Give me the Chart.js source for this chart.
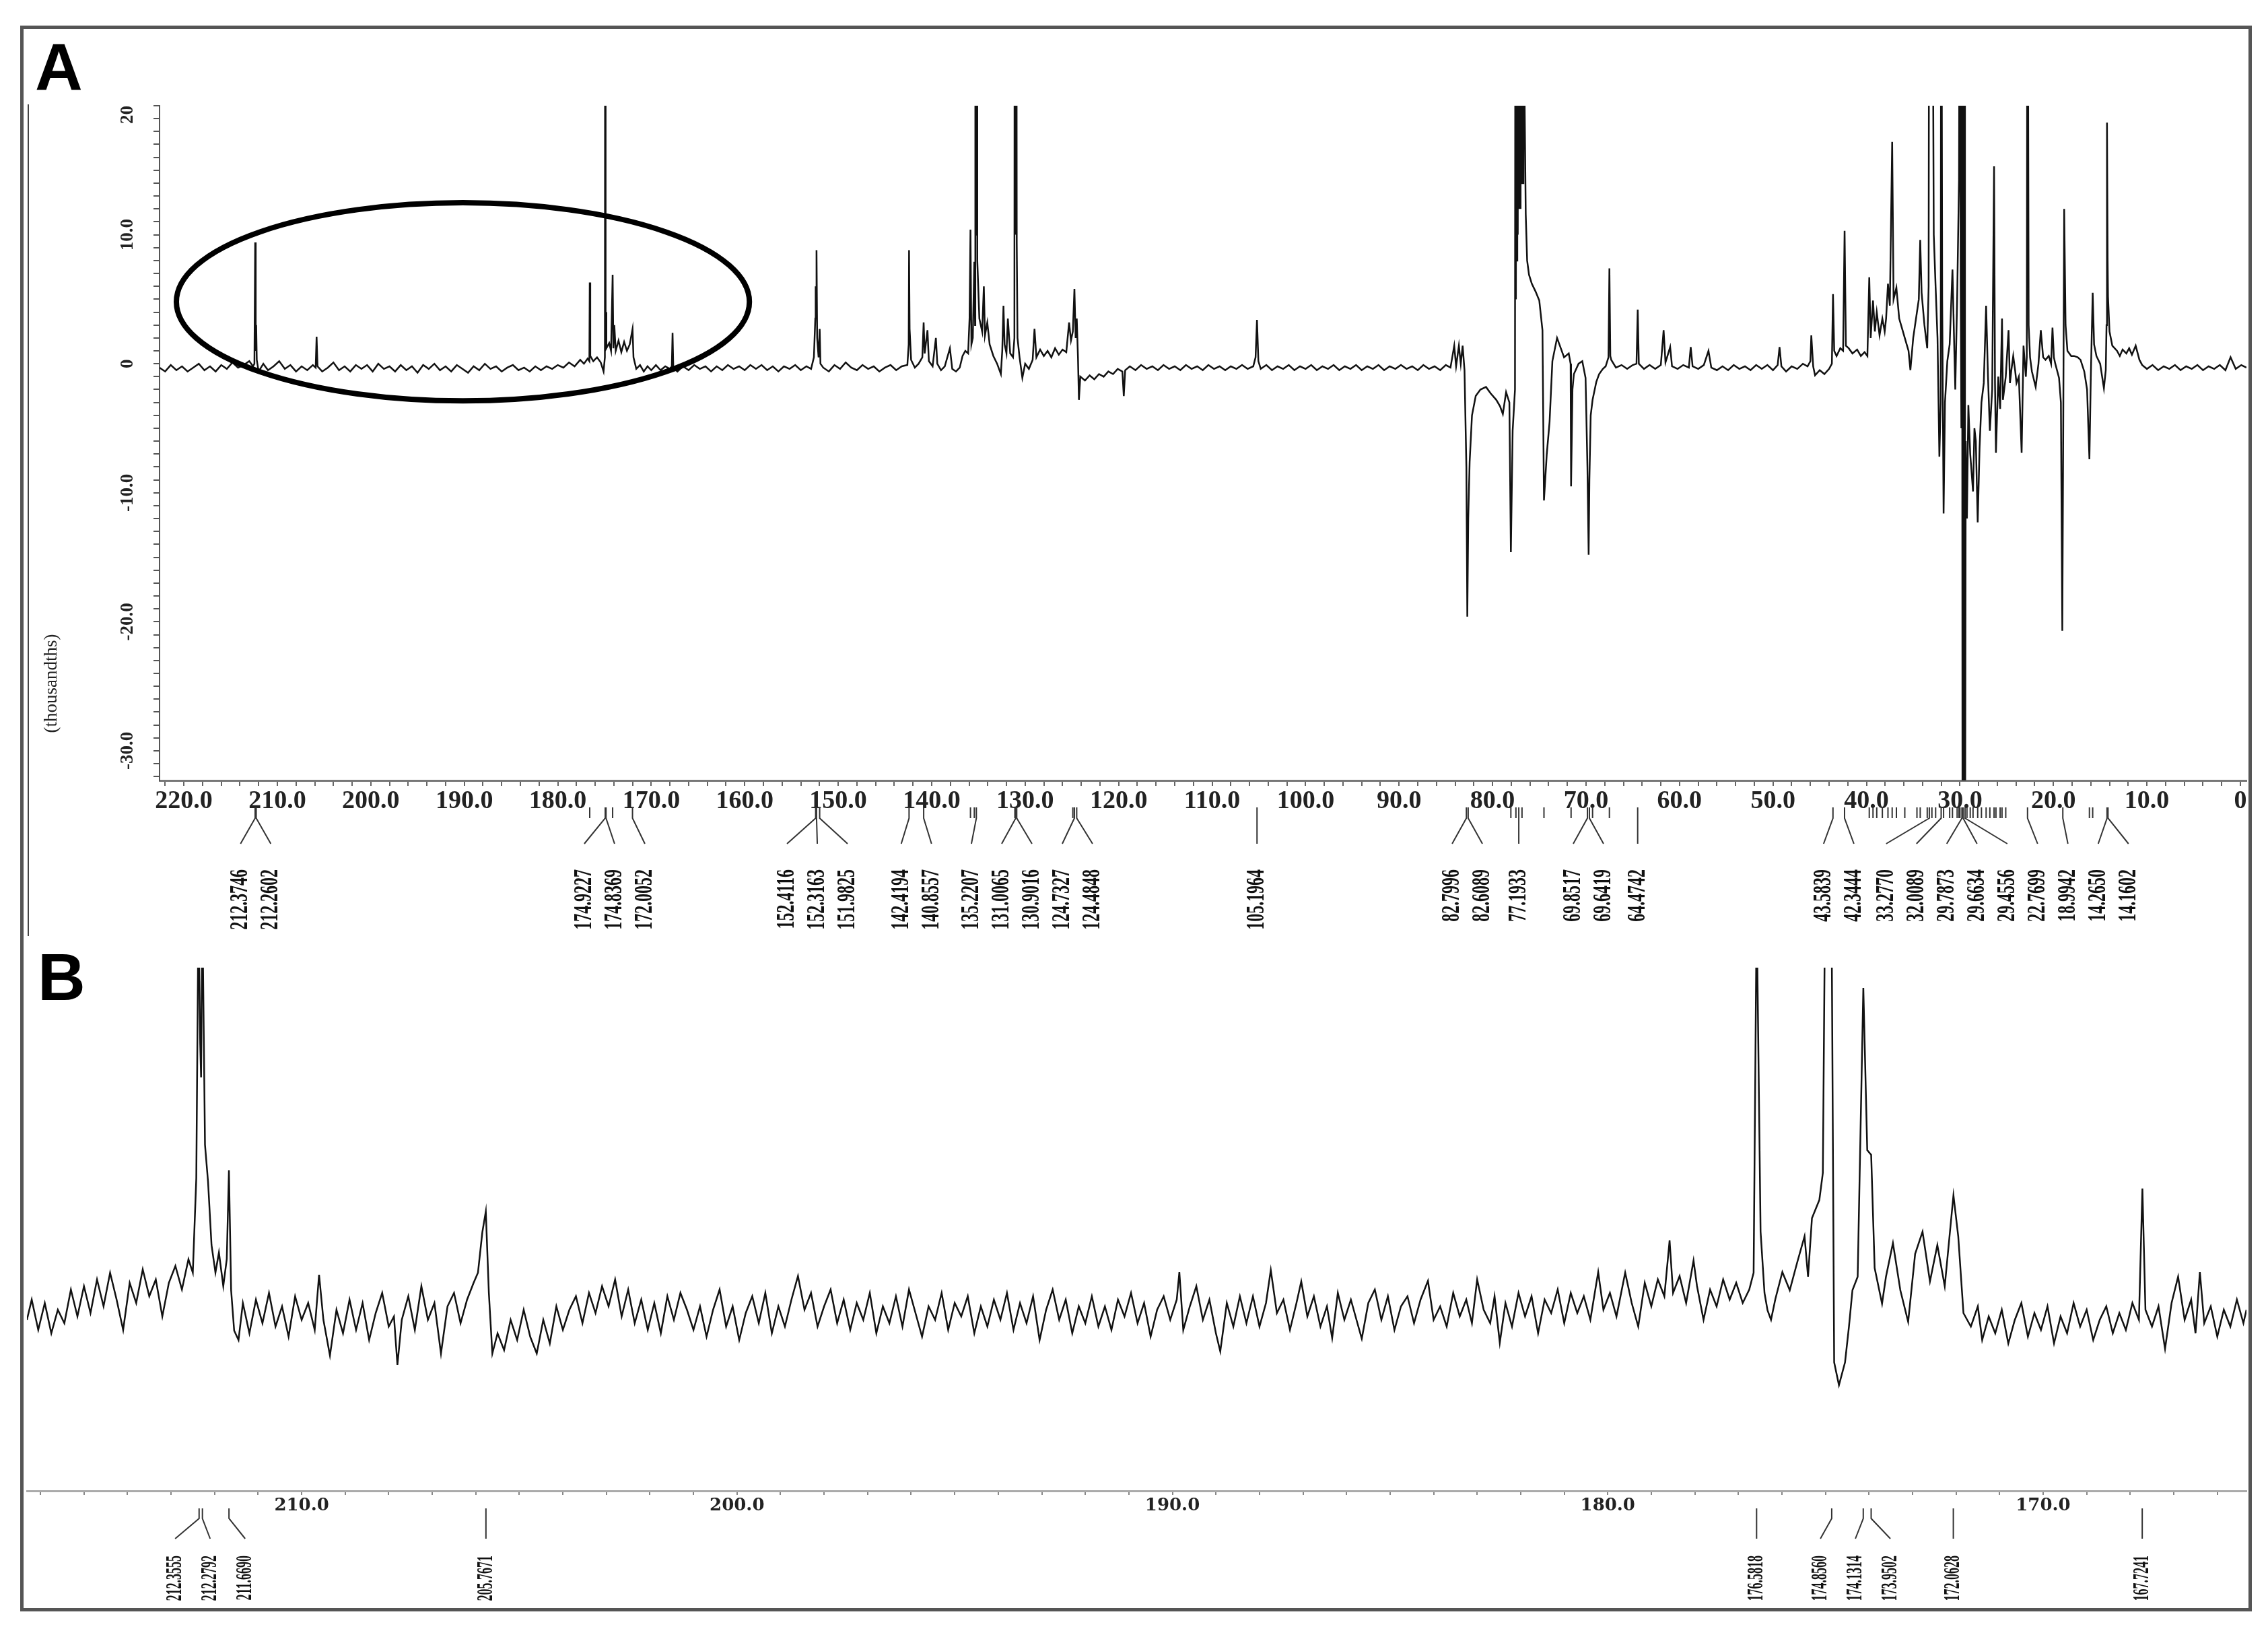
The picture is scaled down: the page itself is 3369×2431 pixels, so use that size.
<!DOCTYPE html>
<html>
<head>
<meta charset="utf-8">
<title>13C NMR spectra A and B</title>
<script src="https://cdn.jsdelivr.net/npm/chart.js@4.4.0/dist/chart.umd.min.js"></script>
<style>
  html, body { margin: 0; padding: 0; background: #fff; }
  #page { position: relative; width: 3369px; height: 2431px; background: #fff; overflow: hidden; }
  #chartA { position: absolute; left: 0; top: 0; }
  #chartB { position: absolute; left: 0; top: 1400px; }
  #frame { position: absolute; left: 30px; top: 38px; width: 3305px; height: 2345px; border: 5px solid #555; pointer-events: none; }
</style>
</head>
<body>
<div id="page">
  <canvas id="chartA" width="3369" height="1400"></canvas>
  <canvas id="chartB" width="3369" height="1031"></canvas>
  <div id="frame"></div>
</div>
<script>
// ---- panel A: full spectrum, [ppm, intensity in thousandths] ----
const specA1 = [[222.6,-0.3],[222.0,-0.6],[221.4,-0.1],[220.8,-0.5],[220.2,-0.2],[219.6,-0.6],[219.0,-0.3],[218.4,0.0],[217.8,-0.5],[217.2,-0.2],[216.6,-0.6],[216.0,-0.1],[215.4,-0.4],[214.8,0.1],[214.2,-0.3],[213.6,-0.1],[213.0,0.2],[212.6,-0.2],[212.45,0.0],[212.37,9.4],[212.31,1.0],[212.26,3.0],[212.2,0.3],[212.0,-0.6],[211.5,0.0],[211.0,-0.5],[210.4,-0.2],[209.8,0.2],[209.2,-0.4],[208.6,-0.1],[208.0,-0.6],[207.4,-0.2],[206.8,-0.5],[206.2,-0.1],[205.9,-0.3],[205.8,2.1],[205.7,-0.2],[205.2,-0.6],[204.6,-0.3],[204.0,0.1],[203.4,-0.5],[202.8,-0.2],[202.2,-0.6],[201.6,-0.1],[201.0,-0.4],[200.4,-0.1],[199.8,-0.6],[199.2,0.0],[198.6,-0.4],[198.0,-0.2],[197.4,-0.6],[196.8,-0.1],[196.2,-0.5],[195.6,-0.2],[195.0,-0.7],[194.4,-0.1],[193.8,-0.4],[193.2,0.0],[192.6,-0.5],[192.0,-0.2],[191.4,-0.6],[190.8,-0.1],[190.2,-0.4],[189.6,-0.7],[189.0,-0.2],[188.4,-0.5],[187.8,0.0],[187.2,-0.4],[186.6,-0.2],[186.0,-0.6],[185.4,-0.3],[184.8,-0.1],[184.2,-0.5],[183.6,-0.3],[183.0,-0.6],[182.4,-0.2],[181.8,-0.5],[181.2,-0.2],[180.6,-0.4],[180.0,-0.1]];
const specA2 = [[179.4,-0.3],[178.8,0.1],[178.2,-0.2],[177.6,0.3],[177.2,0.0],[176.8,0.4],[176.62,0.2],[176.58,6.3],[176.52,0.6],[176.2,0.2],[175.8,0.5],[175.4,0.1],[175.1,-0.6],[174.96,0.5],[174.92,45],[174.88,1.5],[174.84,4.0],[174.8,1.2],[174.5,1.6],[174.3,1.0],[174.13,6.9],[174.05,1.2],[173.95,3.0],[173.8,1.0],[173.5,1.8],[173.2,0.9],[172.9,1.7],[172.6,1.0],[172.3,1.5],[172.0,2.7],[171.9,0.5],[171.6,-0.4],[171.2,-0.1],[170.8,-0.6],[170.4,-0.2],[170.0,-0.5],[169.5,-0.1],[169.0,-0.5],[168.5,-0.2],[168.0,-0.4],[167.8,-0.2],[167.72,2.4],[167.64,-0.3],[167.2,-0.6],[166.6,-0.2],[166.0,-0.5],[165.4,-0.1],[164.8,-0.4],[164.2,-0.2],[163.6,-0.6],[163.0,-0.2],[162.4,-0.5],[161.8,-0.1],[161.2,-0.4],[160.6,-0.2],[160.0,-0.5],[159.4,-0.1],[158.8,-0.4],[158.2,-0.1],[157.6,-0.5],[157.0,-0.2],[156.4,-0.6],[155.8,-0.2],[155.2,-0.4],[154.6,-0.1],[154.0,-0.5],[153.4,-0.2],[152.9,-0.4],[152.6,0.5],[152.45,3.5],[152.41,6.0],[152.36,4.0],[152.32,8.8],[152.25,2.0],[152.1,0.5],[151.98,2.7],[151.9,0.0],[151.6,-0.3],[151.0,-0.6],[150.4,-0.1]];
const specA3 = [[149.8,-0.4],[149.2,0.1],[148.6,-0.3],[148.0,-0.5],[147.4,-0.1],[146.8,-0.4],[146.2,-0.2],[145.6,-0.6],[145.0,-0.3],[144.4,-0.1],[143.8,-0.5],[143.2,-0.2],[142.6,-0.1],[142.46,1.5],[142.42,8.8],[142.36,2.7],[142.2,0.3],[141.8,-0.3],[141.4,0.0],[141.0,0.5],[140.86,3.2],[140.75,0.8],[140.45,2.6],[140.3,0.2],[139.9,-0.2],[139.55,2.0],[139.4,0.0],[139.0,-0.5],[138.6,-0.2],[138.05,1.2],[137.8,-0.4],[137.4,-0.6],[137.0,-0.3],[136.7,0.6],[136.4,1.0],[136.1,0.8],[135.95,3.5],[135.85,10.4],[135.75,1.5],[135.6,2.0],[135.44,7.9],[135.36,3.0],[135.33,45],[135.3,12],[135.27,45],[135.24,10],[135.21,45],[135.18,12],[135.15,45],[135.12,8.0],[134.9,3.5],[134.6,2.5],[134.42,6.0],[134.3,2.2],[134.05,3.2],[133.8,1.5],[133.4,0.6],[133.0,0.0],[132.6,-0.8],[132.45,1.0],[132.32,4.5],[132.2,1.5],[132.0,0.8],[131.85,3.5],[131.6,0.8],[131.3,0.5],[131.15,2.0],[131.12,45],[131.09,12],[131.06,45],[131.03,10],[131.0,45],[130.97,12],[130.94,45],[130.9,9.3],[130.82,2.0],[130.6,0.5],[130.3,-1.1],[130.0,0.0],[129.6,-0.4],[129.2,0.3],[129.0,2.7],[128.8,0.5],[128.4,1.1],[128.0,0.6],[127.6,1.0],[127.2,0.5],[126.8,1.2],[126.4,0.7],[126.0,1.1],[125.6,0.9],[125.3,3.2],[125.1,1.8],[124.9,2.5],[124.73,5.8],[124.6,2.0],[124.48,3.5],[124.35,0.5],[124.25,-2.8],[124.1,-1.0],[123.6,-1.3],[123.1,-0.9],[122.6,-1.2],[122.1,-0.8],[121.6,-1.0],[121.1,-0.6],[120.6,-0.8],[120.1,-0.4],[119.6,-0.6],[119.45,-2.5],[119.3,-0.5],[118.8,-0.2],[118.2,-0.5],[117.6,-0.1],[117.0,-0.4],[116.4,-0.2],[115.8,-0.5],[115.2,-0.1],[114.6,-0.4],[114.0,-0.2],[113.4,-0.5],[112.8,-0.1],[112.2,-0.4],[111.6,-0.2],[111.0,-0.5],[110.4,-0.1],[109.8,-0.4],[109.2,-0.2],[108.6,-0.5],[108.0,-0.2],[107.4,-0.4],[106.8,-0.1],[106.2,-0.4]];
const specA4 = [[105.6,-0.2],[105.35,0.5],[105.2,3.4],[105.05,0.2],[104.8,-0.4],[104.2,-0.1],[103.6,-0.5],[103.0,-0.2],[102.4,-0.4],[101.8,-0.1],[101.2,-0.5],[100.6,-0.2],[100.0,-0.4],[99.4,-0.1],[98.8,-0.5],[98.2,-0.2],[97.6,-0.4],[97.0,-0.1],[96.4,-0.5],[95.8,-0.2],[95.2,-0.4],[94.6,-0.1],[94.0,-0.5],[93.4,-0.2],[92.8,-0.4],[92.2,-0.1],[91.6,-0.5],[91.0,-0.2],[90.4,-0.4],[89.8,-0.1],[89.2,-0.4],[88.6,-0.2],[88.0,-0.5],[87.4,-0.1],[86.8,-0.4],[86.2,-0.2],[85.6,-0.5],[85.0,-0.1],[84.5,-0.3],[84.1,1.4],[83.9,-0.2],[83.6,1.4],[83.4,0.0],[83.2,1.4],[83.0,-0.5],[82.8,-8.0],[82.7,-19.6],[82.6,-12.0],[82.45,-7.6],[82.2,-4.0],[81.8,-2.5],[81.3,-2.0],[80.7,-1.8],[80.2,-2.3],[79.6,-2.8],[79.2,-3.3],[78.9,-3.9],[78.55,-2.2],[78.2,-3.0],[78.04,-14.6],[77.85,-5.2],[77.6,-2.0],[77.55,45],[77.5,5],[77.45,45],[77.4,8],[77.35,45],[77.3,10],[77.25,45],[77.2,12],[77.15,45],[77.1,12],[77.05,45],[77.0,12],[76.95,45],[76.9,14],[76.85,45],[76.75,14],[76.7,30],[76.45,11.6],[76.3,8.0],[76.1,6.9],[75.8,6.2],[75.4,5.6],[75.0,4.9],[74.66,2.6],[74.5,-10.6],[74.2,-7.0],[73.9,-4.5],[73.6,0.2],[73.1,2.0],[72.7,1.2],[72.35,0.5],[71.85,0.8],[71.65,0.0],[71.6,-9.5],[71.45,-2.0],[71.3,-0.8],[70.8,0.0],[70.4,0.2],[70.05,-1.1],[69.85,-8.0],[69.72,-14.8],[69.64,-9.0],[69.5,-4.0],[69.3,-2.8],[68.9,-1.4],[68.6,-0.8],[68.2,-0.4],[67.9,-0.2],[67.6,0.5],[67.5,7.4],[67.4,0.6],[67.3,0.3],[66.8,-0.3],[66.2,-0.1],[65.6,-0.4],[65.0,-0.1],[64.6,0.0],[64.47,4.2],[64.35,0.0],[63.8,-0.4],[63.2,-0.1],[62.6,-0.4],[62.0,-0.1],[61.7,2.6],[61.5,0.1],[61.0,1.3],[60.8,-0.2],[60.2,-0.4],[59.6,-0.1],[59.0,-0.3],[58.8,1.3],[58.6,-0.2],[58.0,-0.4],[57.4,-0.1]];
const specA5 = [[56.9,1.0],[56.6,-0.3],[56.0,-0.5],[55.4,-0.2],[54.8,-0.5],[54.2,-0.1],[53.6,-0.4],[53.0,-0.2],[52.4,-0.5],[51.8,-0.1],[51.2,-0.4],[50.6,-0.1],[50.0,-0.5],[49.5,-0.1],[49.3,1.3],[49.1,-0.2],[48.6,-0.6],[48.0,-0.2],[47.4,-0.4],[46.8,0.0],[46.3,-0.2],[46.0,0.2],[45.9,2.2],[45.7,-0.2],[45.5,-0.9],[45.0,-0.5],[44.5,-0.8],[44.0,-0.4],[43.7,0.0],[43.58,5.4],[43.45,1.0],[43.2,0.6],[42.8,1.2],[42.5,1.0],[42.34,10.3],[42.2,1.4],[41.9,1.2],[41.5,0.8],[41.0,1.1],[40.6,0.6],[40.2,0.9],[39.9,0.6],[39.7,6.7],[39.55,2.0],[39.3,4.9],[39.1,2.5],[38.9,4.0],[38.6,2.2],[38.3,3.5],[38.05,2.5],[37.9,3.5],[37.7,6.2],[37.5,4.5],[37.25,17.2],[37.1,5.0],[36.8,5.9],[36.5,3.5],[36.3,3.0],[35.9,2.0],[35.5,1.0],[35.3,-0.5],[35.0,2.0],[34.6,4.0],[34.4,5.0],[34.25,9.6],[34.1,5.5],[33.8,3.0],[33.5,1.2],[33.35,6.0],[33.28,45],[33.15,20],[33.0,45],[32.8,10],[32.6,5.9],[32.4,2.0],[32.2,-7.2],[32.06,-3.0],[32.0,45],[31.9,5.0],[31.75,-11.6],[31.6,-3.0],[31.35,0.2],[31.1,1.5],[30.8,7.3],[30.6,1.0],[30.5,-2.0],[30.3,5.0],[30.1,14.3],[30.0,45],[29.92,6.0],[29.85,-5.0],[29.79,45],[29.72,-45],[29.66,45],[29.6,-45],[29.52,40],[29.46,-45],[29.38,-6.0],[29.25,-12.0],[29.1,-3.2],[28.9,-7.0],[28.6,-9.9],[28.45,-5.0],[28.3,-6.0],[28.1,-12.3],[27.9,-6.5],[27.7,-3.0],[27.45,-1.5],[27.2,4.5],[27.0,-1.0],[26.8,-5.2],[26.55,-2.0],[26.35,15.3],[26.25,-1.5],[26.15,-6.9],[25.9,-1.0],[25.7,-3.5],[25.5,3.5],[25.4,-2.8],[25.1,-1.0],[24.8,2.6],[24.65,-1.5],[24.5,-0.5],[24.3,0.6],[24.1,-0.5],[23.95,-1.5],[23.7,-1.0],[23.4,-6.9],[23.2,1.4],[22.95,-1.0],[22.85,0.5],[22.77,45],[22.65,3.0],[22.5,0.5],[22.3,-0.6],[21.9,-1.8],[21.6,0.0],[21.35,2.6],[21.1,0.5],[20.85,0.3],[20.5,0.6],[20.25,0.0],[20.1,2.8],[19.95,0.5],[19.8,0.0],[19.4,-1.1],[19.2,-3.0],[19.05,-20.7],[18.95,-5.0],[18.85,12.0],[18.7,3.0],[18.5,1.0],[18.1,0.6],[17.8,0.6],[17.4,0.5],[17.1,0.3],[16.7,-0.6],[16.4,-2.0],[16.15,-7.4],[16.0,-1.0],[15.8,5.5],[15.65,1.5],[15.4,0.6],[15.0,0.0],[14.6,-1.9],[14.4,-0.5],[14.32,3.0],[14.27,18.7],[14.2,8.0],[14.16,5.2],[14.0,2.5],[13.7,1.4],[13.2,1.0],[12.9,0.6],[12.6,1.1],[12.2,0.8],[11.9,1.2],[11.6,0.7],[11.2,1.4],[10.8,0.3],[10.5,-0.1],[10.0,-0.4],[9.4,-0.1],[8.8,-0.5],[8.2,-0.2],[7.6,-0.4],[7.0,-0.1],[6.4,-0.5],[5.8,-0.2],[5.2,-0.4],[4.6,-0.1],[4.0,-0.5],[3.4,-0.2],[2.8,-0.4],[2.2,-0.1],[1.6,-0.5],[1.05,0.5],[0.5,-0.4],[-0.1,-0.1],[-0.65,-0.3]];

const yTickValuesA = [20, 10, 0, -10, -20, -30];
const yTickLabelsA = ['20', '10.0', '0', '-10.0', '-20.0', '-30.0'];

// peak picks printed under the axis, grouped the way the leaders fan out
const peakGroupsA = [
  ['212.3746', '212.2602'],
  ['174.9227', '174.8369', '172.0052'],
  ['152.4116', '152.3163', '151.9825'],
  ['142.4194', '140.8557'],
  ['135.2207'],
  ['131.0065', '130.9016'],
  ['124.7327', '124.4848'],
  ['105.1964'],
  ['82.7996', '82.6089'],
  ['77.1933'],
  ['69.8517', '69.6419'],
  ['64.4742'],
  ['43.5839', '42.3444'],
  ['33.2770', '32.0089', '29.7873', '29.6634', '29.4556'],
  ['22.7699'],
  ['18.9942'],
  ['14.2650', '14.1602']
];
// picked but unlabelled lines (short stubs only)
const extraStubsA = [176.58, 174.13, 135.85, 135.44, 131.1, 124.9, 78.04, 77.5, 76.85, 74.5, 71.6, 69.3, 67.5,
  39.7, 39.3, 38.9, 38.3, 37.7, 37.25, 36.8, 35.9, 34.6, 34.25, 33.5, 33.0, 32.6, 31.75, 31.1, 30.8, 30.3, 30.1, 30.0,
  29.25, 28.9, 28.6, 28.1, 27.7, 27.2, 26.8, 26.35, 26.15, 25.7, 25.5, 25.1, 15.8, 16.15];

// circled carbonyl region (centre ppm / intensity, half sizes)
const ringA = { ppm: 190.15, val: 4.8, dppm: 30.65, dval: 7.68 };

// ---- panel B: expansion 216-165 ppm, arbitrary intensity ----
const specB1 = [[216.31,-1.0],[216.2,2.0],[216.05,-2.5],[215.9,1.5],[215.75,-3.0],[215.6,0.5],[215.45,-1.5],[215.3,3.5],[215.15,-0.5],[215.0,4.0],[214.85,0.0],[214.7,5.0],[214.55,1.0],[214.4,6.0],[214.25,2.0],[214.1,-2.5],[213.95,4.5],[213.8,1.5],[213.65,6.5],[213.5,2.5],[213.35,5.0],[213.2,-0.5],[213.05,4.5],[212.9,7.0],[212.75,3.5],[212.6,8.0],[212.5,6.0],[212.42,20],[212.37,60],[212.33,40],[212.31,35],[212.28,60],[212.22,25],[212.15,19.5],[212.07,10.1],[211.98,6.0],[211.9,9.0],[211.8,4.0],[211.72,8.0],[211.67,21.2],[211.62,3.4],[211.55,-2.6],[211.45,-4.0],[211.35,1.5],[211.2,-3.0],[211.05,2.0]];
const specB2 = [[210.9,-1.5],[210.75,3.0],[210.6,-2.0],[210.45,1.0],[210.3,-3.5],[210.15,2.5],[210.0,-1.0],[209.85,1.5],[209.7,-2.5],[209.6,5.7],[209.5,-1.0],[209.35,-6.3],[209.2,0.5],[209.05,-3.0],[208.9,2.0],[208.75,-2.5],[208.6,1.5],[208.45,-4.0],[208.3,0.0],[208.15,3.0],[208.0,-2.0],[207.88,-0.5],[207.8,-7.7],[207.7,-1.0],[207.55,2.5],[207.4,-2.5],[207.25,4.0],[207.1,-1.0],[206.95,1.5],[206.8,-6.0],[206.65,1.0],[206.5,3.0],[206.35,-1.5],[206.2,2.0],[206.05,4.5],[205.95,6.0],[205.85,12.0],[205.77,15.1],[205.7,3.0],[205.62,-6.0],[205.5,-3.0],[205.35,-5.5],[205.2,-1.0],[205.05,-4.0],[204.9,0.5],[204.75,-3.5],[204.6,-6.0],[204.45,-1.0],[204.3,-4.5],[204.15,1.0],[204.0,-2.5],[203.85,0.5],[203.7,2.5],[203.55,-1.5],[203.4,3.0],[203.25,0.0],[203.1,4.0],[202.95,1.0],[202.8,5.0],[202.65,-0.5],[202.5,3.5],[202.35,-1.5],[202.2,2.0],[202.05,-2.5],[201.9,1.5],[201.75,-3.0],[201.6,2.5],[201.45,-1.0],[201.3,3.0],[201.15,0.5],[201.0,-2.5],[200.85,1.0],[200.7,-3.5],[200.55,0.5],[200.4,3.5],[200.25,-2.0],[200.1,1.0],[199.95,-4.0],[199.8,0.0],[199.65,2.5],[199.5,-1.5],[199.35,3.0],[199.2,-3.0],[199.05,1.0],[198.9,-2.0],[198.75,2.0],[198.6,5.5],[198.45,0.5],[198.3,3.0],[198.15,-2.0],[198.0,1.0],[197.85,3.5],[197.7,-1.5],[197.55,2.0],[197.4,-2.5],[197.25,1.5],[197.1,-1.0],[196.95,3.0],[196.8,-3.0],[196.65,1.0],[196.5,-1.5],[196.35,2.5],[196.2,-2.0],[196.05,3.5],[195.9,0.0],[195.75,-3.5],[195.6,1.0],[195.45,-1.0],[195.3,3.0],[195.15,-2.5],[195.0,1.5],[194.85,-0.5],[194.7,2.5],[194.55,-3.0],[194.4,1.0],[194.25,-2.0],[194.1,2.0],[193.95,-1.0],[193.8,3.0],[193.65,-2.5],[193.5,1.5],[193.35,-1.5],[193.2,2.5],[193.05,-4.0],[192.9,0.5],[192.75,3.5],[192.6,-1.0],[192.45,2.0],[192.3,-3.0],[192.15,1.0],[192.0,-1.5],[191.85,2.5],[191.7,-2.0],[191.55,1.0],[191.4,-2.5],[191.25,2.0],[191.1,-0.5],[190.95,3.0],[190.8,-1.5],[190.65,1.5],[190.5,-3.5],[190.35,0.5],[190.2,2.5]];
const specB3 = [[190.05,-1.0],[189.9,2.0],[189.84,6.1],[189.75,-2.5],[189.6,1.0],[189.45,4.0],[189.3,-1.0],[189.15,2.0],[189.0,-3.0],[188.9,-5.7],[188.75,1.5],[188.6,-2.0],[188.45,2.5],[188.3,-1.5],[188.15,2.5],[188.0,-2.0],[187.85,1.5],[187.74,6.4],[187.6,0.0],[187.45,2.0],[187.3,-2.5],[187.15,1.5],[187.04,4.7],[186.9,-0.5],[186.75,2.5],[186.6,-2.0],[186.45,1.0],[186.33,-3.7],[186.2,3.0],[186.05,-1.0],[185.9,2.0],[185.75,-1.5],[185.65,-3.8],[185.5,1.5],[185.35,3.5],[185.2,-1.0],[185.05,2.5],[184.9,-2.5],[184.75,1.0],[184.6,2.5],[184.45,-1.5],[184.3,2.0],[184.13,4.8],[184.0,-1.0],[183.85,1.0],[183.7,-2.0],[183.55,3.0],[183.4,-0.5],[183.25,2.0],[183.12,-1.5],[183.0,5.0],[182.85,0.5],[182.7,-1.5],[182.6,2.5],[182.48,-4.4],[182.35,1.5],[182.2,-2.0],[182.05,3.0],[181.9,-0.5],[181.75,2.5],[181.6,-3.0],[181.45,2.0],[181.3,0.0],[181.15,3.5],[181.0,-1.5],[180.85,3.0],[180.7,0.0],[180.55,2.5],[180.4,-1.0],[180.22,6.1],[180.1,0.5],[179.95,3.0],[179.8,-0.5],[179.6,6.0],[179.45,1.5],[179.3,-2.0],[179.15,4.5],[179.0,1.0],[178.85,5.0],[178.7,2.5],[178.58,10.8],[178.5,3.0],[178.35,5.5],[178.2,1.5],[178.03,7.8],[177.95,4.0],[177.8,-1.0],[177.65,3.5],[177.5,1.0],[177.35,5.0],[177.2,2.0],[177.05,4.5],[176.9,1.5],[176.75,3.5],[176.65,6.0]];
const specB4 = [[176.58,60],[176.49,12.1],[176.4,3.0],[176.33,0.4],[176.25,-1.0],[176.15,2.1],[175.99,6.1],[175.82,3.4],[175.65,7.5],[175.48,11.4],[175.4,5.4],[175.31,14.1],[175.14,16.8],[175.06,20.8],[175.01,60],[174.93,70],[174.86,60],[174.8,-7.3],[174.69,-10.7],[174.55,-7.3],[174.46,-2.0],[174.38,3.4],[174.26,5.4],[174.13,48.3],[174.04,24.2],[173.95,23.5],[173.87,6.7],[173.7,1.4],[173.61,5.4],[173.45,10.4],[173.28,3.4],[173.1,-1.3],[172.94,8.8],[172.77,12.1],[172.6,4.7],[172.43,10.1],[172.26,4.0],[172.06,17.5],[171.95,11.4],[171.83,0.0],[171.66,-2.0],[171.5,1.0],[171.4,-4.0],[171.25,-0.5],[171.1,-3.0],[170.95,0.5],[170.8,-4.5],[170.65,-1.0],[170.5,1.5],[170.35,-3.5],[170.2,0.0],[170.05,-2.5],[169.9,1.0],[169.75,-4.5],[169.6,-0.5],[169.45,-3.0],[169.3,1.5],[169.15,-2.0],[169.0,0.5],[168.85,-4.0],[168.7,-1.0],[168.55,1.0],[168.4,-3.0],[168.25,0.0],[168.1,-2.5],[167.95,1.5],[167.8,-1.0],[167.72,18.5],[167.65,0.5],[167.5,-2.0],[167.35,1.0],[167.2,-5.3],[167.05,1.5],[166.9,5.4],[166.75,-1.0],[166.6,2.0],[166.5,-3.0],[166.4,6.1],[166.3,-1.5],[166.15,1.0],[166.0,-3.5],[165.85,0.5],[165.7,-2.0],[165.55,2.0],[165.4,-1.5],[165.33,0.5]];

const peakGroupsB = [
  ['212.3555', '212.2792', '211.6690'],
  ['205.7671'],
  ['176.5818'],
  ['174.8560', '174.1314', '173.9502'],
  ['172.0628'],
  ['167.7241']
];
const extraStubsB = [];

function toPoints(...parts) {
  return parts.flat().map(p => ({ x: p[0], y: p[1] }));
}

// peak labels: short stub at the peak, leader out to a rotated label
function drawPeakLabels(chart, groups, extra, g) {
  const ctx = chart.ctx;
  const xs = chart.scales.x;
  const items = [];
  groups.forEach(grp => {
    const px = grp.map(t => xs.getPixelForValue(parseFloat(t)));
    const mid = px.reduce((a, b) => a + b, 0) / px.length;
    grp.forEach((t, i) => items.push({ text: t, px: px[i], lx: mid + (i - (grp.length - 1) / 2) * g.gap }));
  });
  items.sort((a, b) => a.lx - b.lx);
  // push overlapping labels apart
  for (let k = 0; k < 300; k++) {
    for (let i = 1; i < items.length; i++) {
      const d = items[i].lx - items[i - 1].lx;
      if (d < g.gap) {
        const s = (g.gap - d) / 2;
        items[i - 1].lx -= s;
        items[i].lx += s;
      }
    }
  }
  ctx.save();
  ctx.strokeStyle = '#333';
  ctx.lineWidth = g.line;
  extra.forEach(p => {
    const x = xs.getPixelForValue(p);
    ctx.beginPath();
    ctx.moveTo(x, g.stubTop);
    ctx.lineTo(x, g.stubBottom);
    ctx.stroke();
  });
  ctx.fillStyle = '#111';
  ctx.font = g.font;
  ctx.textAlign = 'right';
  ctx.textBaseline = 'middle';
  items.forEach(it => {
    ctx.beginPath();
    ctx.moveTo(it.px, g.stubTop);
    ctx.lineTo(it.px, g.stubBottom);
    ctx.lineTo(it.lx, g.leadBottom);
    ctx.stroke();
    ctx.save();
    ctx.translate(it.lx, g.labelTop);
    ctx.rotate(-Math.PI / 2);
    ctx.scale(g.squeeze, 1);
    ctx.fillText(it.text, 0, 0);
    ctx.restore();
  });
  ctx.restore();
}

const decorA = {
  id: 'decorA',
  afterDraw(chart) {
    const { ctx, chartArea } = chart;
    const x = chart.scales.x, y = chart.scales.y;
    ctx.save();
    // panel letter
    ctx.fillStyle = '#000';
    ctx.font = 'bold 98px "Liberation Sans"';
    ctx.textBaseline = 'alphabetic';
    ctx.textAlign = 'left';
    ctx.fillText('A', 52, 133);
    // thin rule at the left
    ctx.strokeStyle = '#444';
    ctx.lineWidth = 2;
    ctx.beginPath();
    ctx.moveTo(42, 155);
    ctx.lineTo(42, 1390);
    ctx.stroke();
    // y tick labels, rotated
    ctx.fillStyle = '#222';
    ctx.font = 'bold 27px "Liberation Serif"';
    ctx.textAlign = 'center';
    ctx.textBaseline = 'middle';
    yTickValuesA.forEach((v, i) => {
      const lab = yTickLabelsA[i];
      const w = ctx.measureText(lab).width;
      let cy = y.getPixelForValue(v);
      if (cy - w / 2 < chartArea.top) cy = chartArea.top + w / 2;
      ctx.save();
      ctx.translate(190, cy);
      ctx.rotate(-Math.PI / 2);
      ctx.fillText(lab, 0, 0);
      ctx.restore();
    });
    // axis title
    ctx.font = '27px "Liberation Serif"';
    ctx.save();
    ctx.translate(77, 1015);
    ctx.rotate(-Math.PI / 2);
    ctx.fillText('(thousandths)', 0, 0);
    ctx.restore();
    // ellipse around the carbonyl region
    const cx = x.getPixelForValue(ringA.ppm), cy = y.getPixelForValue(ringA.val);
    const rx = Math.abs(x.getPixelForValue(ringA.ppm + ringA.dppm) - cx);
    const ry = Math.abs(y.getPixelForValue(ringA.val + ringA.dval) - cy);
    ctx.strokeStyle = '#000';
    ctx.lineWidth = 8;
    ctx.beginPath();
    ctx.ellipse(cx, cy, rx, ry, 0, 0, Math.PI * 2);
    ctx.stroke();
    ctx.restore();
    drawPeakLabels(chart, peakGroupsA, extraStubsA, {
      stubTop: 1199, stubBottom: 1215, leadBottom: 1253, labelTop: 1291,
      gap: 45, font: 'bold 38px "Liberation Serif"', squeeze: 0.63, line: 2
    });
  }
};

const decorB = {
  id: 'decorB',
  afterDraw(chart) {
    const ctx = chart.ctx;
    ctx.save();
    ctx.fillStyle = '#000';
    ctx.font = 'bold 98px "Liberation Sans"';
    ctx.textBaseline = 'alphabetic';
    ctx.textAlign = 'left';
    ctx.fillText('B', 56, 85);
    ctx.restore();
    drawPeakLabels(chart, peakGroupsB, extraStubsB, {
      stubTop: 840, stubBottom: 855, leadBottom: 885, labelTop: 910,
      gap: 52, font: 'bold 34px "Liberation Serif"', squeeze: 0.53, line: 2
    });
  }
};

new Chart(document.getElementById('chartA'), {
  type: 'line',
  data: {
    datasets: [{
      data: toPoints(specA1, specA2, specA3, specA4, specA5),
      borderColor: '#111',
      borderWidth: 2.5,
      pointRadius: 0,
      tension: 0
    }]
  },
  options: {
    responsive: false,
    devicePixelRatio: 1,
    animation: false,
    layout: { padding: { left: 0, right: 32, top: 157, bottom: 0 } },
    plugins: { legend: { display: false }, tooltip: { enabled: false } },
    scales: {
      x: {
        type: 'linear',
        reverse: true,
        min: -0.65,
        max: 222.6,
        afterFit(scale) { scale.height = 241; },
        border: { display: true, color: '#777', width: 3 },
        grid: { drawOnChartArea: false, drawTicks: true, tickLength: 8, color: '#666', lineWidth: 2 },
        ticks: {
          stepSize: 2,
          autoSkip: false,
          maxRotation: 0,
          includeBounds: false,
          padding: 0,
          color: '#222',
          font: { family: '"Liberation Serif"', size: 38, weight: 'bold' },
          callback: v => (v % 10 === 0 ? (v === 0 ? '0' : v.toFixed(1)) : '')
        }
      },
      y: {
        type: 'linear',
        min: -32.3,
        max: 20,
        afterFit(scale) { scale.width = 237; },
        border: { display: true, color: '#555', width: 2 },
        grid: { drawOnChartArea: false, drawTicks: true, tickLength: 9, color: '#555', lineWidth: 2 },
        ticks: { stepSize: 1, includeBounds: false, display: false }
      }
    }
  },
  plugins: [decorA]
});

new Chart(document.getElementById('chartB'), {
  type: 'line',
  data: {
    datasets: [{
      data: toPoints(specB1, specB2, specB3, specB4),
      borderColor: '#111',
      borderWidth: 2.5,
      pointRadius: 0,
      tension: 0
    }]
  },
  options: {
    responsive: false,
    devicePixelRatio: 1,
    animation: false,
    layout: { padding: { left: 40, right: 32, top: 37, bottom: 0 } },
    plugins: { legend: { display: false }, tooltip: { enabled: false } },
    scales: {
      x: {
        type: 'linear',
        reverse: true,
        min: 165.33,
        max: 216.31,
        afterFit(scale) { scale.height = 217; },
        border: { display: true, color: '#aaa', width: 3 },
        grid: { drawOnChartArea: false, drawTicks: true, tickLength: 6, color: '#888', lineWidth: 2 },
        ticks: {
          stepSize: 1,
          autoSkip: false,
          maxRotation: 0,
          includeBounds: false,
          padding: 1,
          color: '#222',
          font: { family: '"DejaVu Serif"', size: 26, weight: 'bold' },
          callback: v => (v % 10 === 0 ? v.toFixed(1) : '')
        }
      },
      y: {
        type: 'linear',
        display: false,
        min: -26.4,
        max: 51.3
      }
    }
  },
  plugins: [decorB]
});
</script>
</body>
</html>
